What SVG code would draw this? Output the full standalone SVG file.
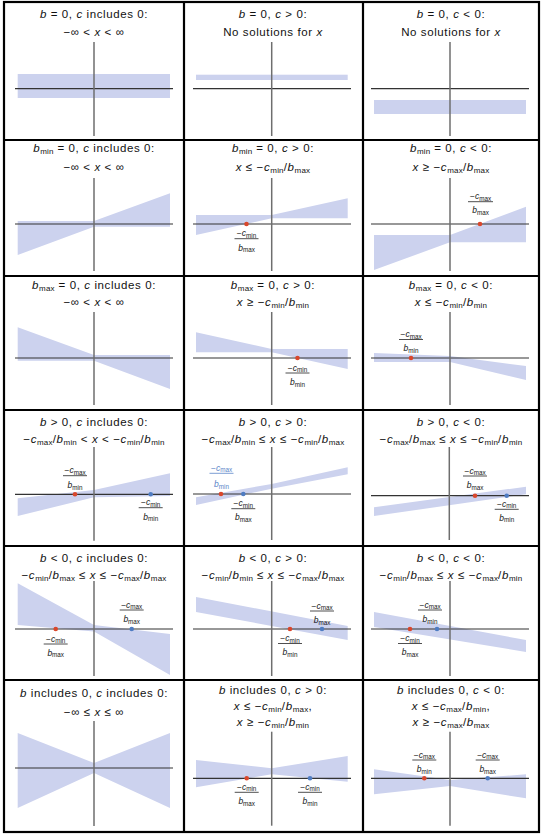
<svg xmlns="http://www.w3.org/2000/svg" width="544" height="836" viewBox="0 0 544 836">
<style>
.bg{fill:#ffffff}
.grid{stroke:#000;stroke-width:2.2;fill:none}
.band{fill:#ccd2ee}
.ax{stroke:#333;stroke-width:1.2}
.ay{stroke:#6e6e6e;stroke-width:1.5}
.t{font-family:"Liberation Sans",Arial,sans-serif;font-size:11.5px;fill:#111;text-anchor:middle;letter-spacing:0.6px}
.i{font-style:italic}
.s{font-size:8px;letter-spacing:0.2px}
.f{font-family:"Liberation Sans",Arial,sans-serif;font-size:8.5px;fill:#151515;text-anchor:middle}
.fb{font-family:"Liberation Sans",Arial,sans-serif;font-size:8.5px;fill:#5a84c8;text-anchor:middle}
.fs{font-size:6.3px}
.bar{stroke:#222;stroke-width:0.8}
.barb{stroke:#5a84c8;stroke-width:0.8}
.rd{fill:#d9472c}
.bd{fill:#4f7cc2}
</style>
<rect class="bg" x="0" y="0" width="544" height="836"/>
<g id="connectors"></g>

<!-- Row 1 -->
<g id="c1">
<rect class="band" x="17.7" y="74" width="152.3" height="24"/>
<line class="ax" x1="15" y1="88.7" x2="173" y2="88.7"/>
<line class="ay" x1="94" y1="42" x2="94" y2="136"/>
<text class="t" x="94" y="18"><tspan class="i">b</tspan> = 0, <tspan class="i">c</tspan> includes 0:</text>
<text class="t" x="94" y="36">−∞ &lt; <tspan class="i">x</tspan> &lt; ∞</text>
</g>
<g id="c2">
<rect class="band" x="196" y="74.7" width="151.7" height="5.3"/>
<line class="ax" x1="193" y1="88.7" x2="351" y2="88.7"/>
<line class="ay" x1="271.7" y1="42" x2="271.7" y2="136"/>
<text class="t" x="273" y="18"><tspan class="i">b</tspan> = 0, <tspan class="i">c</tspan> &gt; 0:</text>
<text class="t" x="273" y="36">No solutions for <tspan class="i">x</tspan></text>
</g>
<g id="c3">
<rect class="band" x="374" y="100" width="152" height="14"/>
<line class="ax" x1="371" y1="88.7" x2="529" y2="88.7"/>
<line class="ay" x1="450" y1="42" x2="450" y2="136"/>
<text class="t" x="451" y="18"><tspan class="i">b</tspan> = 0, <tspan class="i">c</tspan> &lt; 0:</text>
<text class="t" x="451" y="36">No solutions for <tspan class="i">x</tspan></text>
</g>

<!-- Row 2 -->
<g id="c4">
<polygon class="band" points="17.7,221 94,221 170,193.3 170,226.7 94,226.7 17.7,255"/>
<line class="ax" x1="15" y1="224" x2="173" y2="224"/>
<line class="ay" x1="94" y1="178" x2="94" y2="271"/>
<text class="t" x="94" y="152"><tspan class="i">b</tspan><tspan class="s" dy="2">min</tspan><tspan dy="-2"> = 0, </tspan><tspan class="i">c</tspan> includes 0:</text>
<text class="t" x="94" y="171">−∞ &lt; <tspan class="i">x</tspan> &lt; ∞</text>
</g>
<g id="c5">
<polygon class="band" points="196,215 271.7,215 347.7,198.3 347.7,218.3 271.7,218.3 196,235"/>
<line class="ax" x1="193" y1="224" x2="351" y2="224"/>
<line class="ay" x1="271.7" y1="178" x2="271.7" y2="271"/>
<circle class="rd" cx="246.5" cy="224" r="2.3"/>
<text class="f" x="246.5" y="236.2">−<tspan class="i">c</tspan><tspan class="fs" dy="1.5">min</tspan></text>
<line class="bar" x1="234.5" y1="238.7" x2="258.5" y2="238.7"/>
<text class="f" x="246.5" y="250.5"><tspan class="i">b</tspan><tspan class="fs" dy="1.5">max</tspan></text>
<text class="t" x="273" y="152"><tspan class="i">b</tspan><tspan class="s" dy="2">min</tspan><tspan dy="-2"> = 0, </tspan><tspan class="i">c</tspan> &gt; 0:</text>
<text class="t" x="273" y="171"><tspan class="i">x</tspan> ≤ −<tspan class="i">c</tspan><tspan class="s" dy="2">min</tspan><tspan dy="-2">/</tspan><tspan class="i">b</tspan><tspan class="s" dy="2">max</tspan></text>
</g>
<g id="c6">
<polygon class="band" points="374,235 450,235 526,206.7 526,242.3 450,242.3 374,270"/>
<line class="ax" x1="371" y1="224" x2="529" y2="224"/>
<line class="ay" x1="450" y1="178" x2="450" y2="271"/>
<circle class="rd" cx="480" cy="224" r="2.3"/>
<text class="f" x="480.5" y="199">−<tspan class="i">c</tspan><tspan class="fs" dy="1.5">max</tspan></text>
<line class="bar" x1="468" y1="201.7" x2="493" y2="201.7"/>
<text class="f" x="480.5" y="213"><tspan class="i">b</tspan><tspan class="fs" dy="1.5">max</tspan></text>
<text class="t" x="451" y="152"><tspan class="i">b</tspan><tspan class="s" dy="2">min</tspan><tspan dy="-2"> = 0, </tspan><tspan class="i">c</tspan> &lt; 0:</text>
<text class="t" x="451" y="171"><tspan class="i">x</tspan> ≥ −<tspan class="i">c</tspan><tspan class="s" dy="2">max</tspan><tspan dy="-2">/</tspan><tspan class="i">b</tspan><tspan class="s" dy="2">max</tspan></text>
</g>

<!-- Row 3 -->
<g id="c7">
<polygon class="band" points="17.7,327.3 94,355 170,355 170,389 94,360.7 17.7,360.7"/>
<line class="ax" x1="15" y1="358" x2="173" y2="358"/>
<line class="ay" x1="94" y1="312" x2="94" y2="405"/>
<text class="t" x="94" y="289"><tspan class="i">b</tspan><tspan class="s" dy="2">max</tspan><tspan dy="-2"> = 0, </tspan><tspan class="i">c</tspan> includes 0:</text>
<text class="t" x="94" y="306">−∞ &lt; <tspan class="i">x</tspan> &lt; ∞</text>
</g>
<g id="c8">
<polygon class="band" points="196,332.3 271.7,349 347.7,349 347.7,369 271.7,352.3 196,352.3"/>
<line class="ax" x1="193" y1="358" x2="351" y2="358"/>
<line class="ay" x1="271.7" y1="312" x2="271.7" y2="405"/>
<circle class="rd" cx="297.5" cy="358" r="2.3"/>
<text class="f" x="297.5" y="370.5">−<tspan class="i">c</tspan><tspan class="fs" dy="1.5">min</tspan></text>
<line class="bar" x1="285.5" y1="373" x2="309.5" y2="373"/>
<text class="f" x="297.5" y="385"><tspan class="i">b</tspan><tspan class="fs" dy="1.5">min</tspan></text>
<text class="t" x="273" y="289"><tspan class="i">b</tspan><tspan class="s" dy="2">max</tspan><tspan dy="-2"> = 0, </tspan><tspan class="i">c</tspan> &gt; 0:</text>
<text class="t" x="273" y="306"><tspan class="i">x</tspan> ≥ −<tspan class="i">c</tspan><tspan class="s" dy="2">min</tspan><tspan dy="-2">/</tspan><tspan class="i">b</tspan><tspan class="s" dy="2">min</tspan></text>
</g>
<g id="c9">
<polygon class="band" points="374,353 450,356 526,366 526,380 450,362 374,362"/>
<line class="ax" x1="371" y1="358" x2="529" y2="358"/>
<line class="ay" x1="450" y1="312" x2="450" y2="405"/>
<circle class="rd" cx="411" cy="358" r="2.3"/>
<text class="f" x="411" y="337">−<tspan class="i">c</tspan><tspan class="fs" dy="1.5">max</tspan></text>
<line class="bar" x1="399" y1="339.5" x2="423" y2="339.5"/>
<text class="f" x="411" y="351"><tspan class="i">b</tspan><tspan class="fs" dy="1.5">min</tspan></text>
<text class="t" x="451" y="289"><tspan class="i">b</tspan><tspan class="s" dy="2">max</tspan><tspan dy="-2"> = 0, </tspan><tspan class="i">c</tspan> &lt; 0:</text>
<text class="t" x="451" y="306"><tspan class="i">x</tspan> ≤ −<tspan class="i">c</tspan><tspan class="s" dy="2">min</tspan><tspan dy="-2">/</tspan><tspan class="i">b</tspan><tspan class="s" dy="2">min</tspan></text>
</g>

<!-- Row 4 -->
<g id="c10">
<polygon class="band" points="17.7,498.3 94,490 170,473.3 170,496 94,497.3 17.7,516"/>
<line class="ax" x1="15" y1="494.3" x2="173" y2="494.3"/>
<line class="ay" x1="94" y1="447" x2="94" y2="540.7"/>
<circle class="rd" cx="75" cy="494.3" r="2.3"/>
<circle class="bd" cx="150.7" cy="494.3" r="2.3"/>
<text class="f" x="75" y="473">−<tspan class="i">c</tspan><tspan class="fs" dy="1.5">max</tspan></text>
<line class="bar" x1="63" y1="475.7" x2="87" y2="475.7"/>
<text class="f" x="75" y="488"><tspan class="i">b</tspan><tspan class="fs" dy="1.5">min</tspan></text>
<text class="f" x="150.7" y="505">−<tspan class="i">c</tspan><tspan class="fs" dy="1.5">min</tspan></text>
<line class="bar" x1="138.7" y1="507.7" x2="162.7" y2="507.7"/>
<text class="f" x="150.7" y="519.5"><tspan class="i">b</tspan><tspan class="fs" dy="1.5">min</tspan></text>
<text class="t" x="94" y="426"><tspan class="i">b</tspan> &gt; 0, <tspan class="i">c</tspan> includes 0:</text>
<text class="t" x="94" y="443">−<tspan class="i">c</tspan><tspan class="s" dy="2">max</tspan><tspan dy="-2">/</tspan><tspan class="i">b</tspan><tspan class="s" dy="2">min</tspan><tspan dy="-2"> &lt; </tspan><tspan class="i">x</tspan> &lt; −<tspan class="i">c</tspan><tspan class="s" dy="2">min</tspan><tspan dy="-2">/</tspan><tspan class="i">b</tspan><tspan class="s" dy="2">min</tspan></text>
</g>
<g id="c11">
<polygon class="band" points="196,497.3 271.7,484 347.7,467.3 347.7,474.3 271.7,488.7 196,505"/>
<line class="ax" x1="193" y1="494" x2="351" y2="494"/>
<line class="ay" x1="271.7" y1="447" x2="271.7" y2="540"/>
<circle class="rd" cx="221" cy="494" r="2.3"/>
<circle class="bd" cx="243.3" cy="494" r="2.3"/>
<text class="fb" x="221.5" y="470.8">−<tspan class="i">c</tspan><tspan class="fs" dy="1.5">max</tspan></text>
<line class="barb" x1="209.5" y1="473.3" x2="233.5" y2="473.3"/>
<text class="fb" x="221.5" y="487"><tspan class="i">b</tspan><tspan class="fs" dy="1.5">min</tspan></text>
<text class="f" x="243.3" y="506.2">−<tspan class="i">c</tspan><tspan class="fs" dy="1.5">min</tspan></text>
<line class="bar" x1="231.3" y1="508.7" x2="255.3" y2="508.7"/>
<text class="f" x="243.3" y="520"><tspan class="i">b</tspan><tspan class="fs" dy="1.5">max</tspan></text>
<text class="t" x="273" y="426"><tspan class="i">b</tspan> &gt; 0, <tspan class="i">c</tspan> &gt; 0:</text>
<text class="t" x="273" y="443">−<tspan class="i">c</tspan><tspan class="s" dy="2">max</tspan><tspan dy="-2">/</tspan><tspan class="i">b</tspan><tspan class="s" dy="2">min</tspan><tspan dy="-2"> ≤ </tspan><tspan class="i">x</tspan> ≤ −<tspan class="i">c</tspan><tspan class="s" dy="2">min</tspan><tspan dy="-2">/</tspan><tspan class="i">b</tspan><tspan class="s" dy="2">max</tspan></text>
</g>
<g id="c12">
<polygon class="band" points="374,507.3 526,486.7 526,494.3 374,516"/>
<line class="ax" x1="371" y1="495.7" x2="529" y2="495.7"/>
<line class="ay" x1="449.3" y1="447" x2="449.3" y2="540"/>
<circle class="rd" cx="475" cy="495.7" r="2.3"/>
<circle class="bd" cx="506.7" cy="495.7" r="2.3"/>
<text class="f" x="475" y="473.5">−<tspan class="i">c</tspan><tspan class="fs" dy="1.5">max</tspan></text>
<line class="bar" x1="463" y1="476" x2="487" y2="476"/>
<text class="f" x="475" y="488"><tspan class="i">b</tspan><tspan class="fs" dy="1.5">max</tspan></text>
<text class="f" x="506.7" y="506.8">−<tspan class="i">c</tspan><tspan class="fs" dy="1.5">min</tspan></text>
<line class="bar" x1="494.7" y1="509.3" x2="518.7" y2="509.3"/>
<text class="f" x="506.7" y="520.5"><tspan class="i">b</tspan><tspan class="fs" dy="1.5">min</tspan></text>
<text class="t" x="451" y="426"><tspan class="i">b</tspan> &gt; 0, <tspan class="i">c</tspan> &lt; 0:</text>
<text class="t" x="451" y="443">−<tspan class="i">c</tspan><tspan class="s" dy="2">max</tspan><tspan dy="-2">/</tspan><tspan class="i">b</tspan><tspan class="s" dy="2">max</tspan><tspan dy="-2"> ≤ </tspan><tspan class="i">x</tspan> ≤ −<tspan class="i">c</tspan><tspan class="s" dy="2">min</tspan><tspan dy="-2">/</tspan><tspan class="i">b</tspan><tspan class="s" dy="2">min</tspan></text>
</g>

<!-- Row 5 -->
<g id="c13">
<polygon class="band" points="17.7,583.3 94,625 170,634 170,675 94,631.5 17.7,625"/>
<line class="ax" x1="15" y1="629" x2="173" y2="629"/>
<line class="ay" x1="94" y1="581" x2="94" y2="676"/>
<circle class="rd" cx="55.7" cy="629" r="2.3"/>
<circle class="bd" cx="131.7" cy="629" r="2.3"/>
<text class="f" x="131.7" y="607.5">−<tspan class="i">c</tspan><tspan class="fs" dy="1.5">max</tspan></text>
<line class="bar" x1="119.7" y1="610" x2="143.7" y2="610"/>
<text class="f" x="131.7" y="622"><tspan class="i">b</tspan><tspan class="fs" dy="1.5">max</tspan></text>
<text class="f" x="55.7" y="641.5">−<tspan class="i">c</tspan><tspan class="fs" dy="1.5">min</tspan></text>
<line class="bar" x1="43.7" y1="644" x2="67.7" y2="644"/>
<text class="f" x="55.7" y="655.5"><tspan class="i">b</tspan><tspan class="fs" dy="1.5">max</tspan></text>
<text class="t" x="94" y="562"><tspan class="i">b</tspan> &lt; 0, <tspan class="i">c</tspan> includes 0:</text>
<text class="t" x="94" y="579">−<tspan class="i">c</tspan><tspan class="s" dy="2">min</tspan><tspan dy="-2">/</tspan><tspan class="i">b</tspan><tspan class="s" dy="2">max</tspan><tspan dy="-2"> ≤ </tspan><tspan class="i">x</tspan> ≤ −<tspan class="i">c</tspan><tspan class="s" dy="2">max</tspan><tspan dy="-2">/</tspan><tspan class="i">b</tspan><tspan class="s" dy="2">max</tspan></text>
</g>
<g id="c14">
<polygon class="band" points="196,597 347.7,626 347.7,640 196,612"/>
<line class="ax" x1="193" y1="629" x2="351" y2="629"/>
<line class="ay" x1="271.7" y1="581" x2="271.7" y2="676"/>
<circle class="rd" cx="290" cy="629" r="2.3"/>
<circle class="bd" cx="322" cy="629" r="2.3"/>
<text class="f" x="322" y="608.5">−<tspan class="i">c</tspan><tspan class="fs" dy="1.5">max</tspan></text>
<line class="bar" x1="310" y1="611" x2="334" y2="611"/>
<text class="f" x="322" y="623"><tspan class="i">b</tspan><tspan class="fs" dy="1.5">max</tspan></text>
<text class="f" x="290" y="641">−<tspan class="i">c</tspan><tspan class="fs" dy="1.5">min</tspan></text>
<line class="bar" x1="278" y1="643.5" x2="302" y2="643.5"/>
<text class="f" x="290" y="655"><tspan class="i">b</tspan><tspan class="fs" dy="1.5">min</tspan></text>
<text class="t" x="273" y="562"><tspan class="i">b</tspan> &lt; 0, <tspan class="i">c</tspan> &gt; 0:</text>
<text class="t" x="273" y="579">−<tspan class="i">c</tspan><tspan class="s" dy="2">min</tspan><tspan dy="-2">/</tspan><tspan class="i">b</tspan><tspan class="s" dy="2">min</tspan><tspan dy="-2"> ≤ </tspan><tspan class="i">x</tspan> ≤ −<tspan class="i">c</tspan><tspan class="s" dy="2">max</tspan><tspan dy="-2">/</tspan><tspan class="i">b</tspan><tspan class="s" dy="2">max</tspan></text>
</g>
<g id="c15">
<polygon class="band" points="374,612 526,640 526,652 374,627"/>
<line class="ax" x1="371" y1="629" x2="529" y2="629"/>
<line class="ay" x1="450" y1="581" x2="450" y2="676"/>
<circle class="rd" cx="410" cy="629" r="2.3"/>
<circle class="bd" cx="437" cy="629" r="2.3"/>
<text class="f" x="430" y="607.5">−<tspan class="i">c</tspan><tspan class="fs" dy="1.5">max</tspan></text>
<line class="bar" x1="418" y1="610" x2="442" y2="610"/>
<text class="f" x="430" y="622"><tspan class="i">b</tspan><tspan class="fs" dy="1.5">min</tspan></text>
<text class="f" x="410" y="641">−<tspan class="i">c</tspan><tspan class="fs" dy="1.5">min</tspan></text>
<line class="bar" x1="398" y1="643.5" x2="422" y2="643.5"/>
<text class="f" x="410" y="655"><tspan class="i">b</tspan><tspan class="fs" dy="1.5">max</tspan></text>
<text class="t" x="451" y="562"><tspan class="i">b</tspan> &lt; 0, <tspan class="i">c</tspan> &lt; 0:</text>
<text class="t" x="451" y="579">−<tspan class="i">c</tspan><tspan class="s" dy="2">min</tspan><tspan dy="-2">/</tspan><tspan class="i">b</tspan><tspan class="s" dy="2">max</tspan><tspan dy="-2"> ≤ </tspan><tspan class="i">x</tspan> ≤ −<tspan class="i">c</tspan><tspan class="s" dy="2">max</tspan><tspan dy="-2">/</tspan><tspan class="i">b</tspan><tspan class="s" dy="2">min</tspan></text>
</g>

<!-- Row 6 -->
<g id="c16">
<polygon class="band" points="17.7,733 94,763 170,733 170,808 94,773 17.7,808"/>
<line class="ax" x1="15" y1="768" x2="173" y2="768"/>
<line class="ay" x1="94" y1="721" x2="94" y2="826"/>
<text class="t" x="94" y="697"><tspan class="i">b</tspan> includes 0, <tspan class="i">c</tspan> includes 0:</text>
<text class="t" x="94" y="716">−∞ ≤ <tspan class="i">x</tspan> ≤ ∞</text>
</g>
<g id="c17">
<polygon class="band" points="196,760 271.7,768.3 347.7,756 347.7,781.7 271.7,774.3 196,787.3"/>
<line class="ax" x1="193" y1="778.3" x2="351" y2="778.3"/>
<line class="ay" x1="271.7" y1="731.7" x2="271.7" y2="825.7"/>
<circle class="rd" cx="246.7" cy="778.3" r="2.3"/>
<circle class="bd" cx="310" cy="778.3" r="2.3"/>
<text class="f" x="246.7" y="789.8">−<tspan class="i">c</tspan><tspan class="fs" dy="1.5">min</tspan></text>
<line class="bar" x1="234.7" y1="792.3" x2="258.7" y2="792.3"/>
<text class="f" x="246.7" y="804"><tspan class="i">b</tspan><tspan class="fs" dy="1.5">max</tspan></text>
<text class="f" x="310" y="789.8">−<tspan class="i">c</tspan><tspan class="fs" dy="1.5">min</tspan></text>
<line class="bar" x1="298" y1="792.3" x2="322" y2="792.3"/>
<text class="f" x="310" y="804"><tspan class="i">b</tspan><tspan class="fs" dy="1.5">min</tspan></text>
<text class="t" x="273" y="694"><tspan class="i">b</tspan> includes 0, <tspan class="i">c</tspan> &gt; 0:</text>
<text class="t" x="273" y="710"><tspan class="i">x</tspan> ≤ −<tspan class="i">c</tspan><tspan class="s" dy="2">min</tspan><tspan dy="-2">/</tspan><tspan class="i">b</tspan><tspan class="s" dy="2">max</tspan><tspan dy="-2">,</tspan></text>
<text class="t" x="273" y="726"><tspan class="i">x</tspan> ≥ −<tspan class="i">c</tspan><tspan class="s" dy="2">min</tspan><tspan dy="-2">/</tspan><tspan class="i">b</tspan><tspan class="s" dy="2">min</tspan></text>
</g>
<g id="c18">
<polygon class="band" points="374,769.3 450,780 526,774.3 526,798.3 450,786 374,794.3"/>
<line class="ax" x1="371" y1="778.3" x2="529" y2="778.3"/>
<line class="ay" x1="450" y1="731.7" x2="450" y2="825.7"/>
<circle class="rd" cx="424.3" cy="778.3" r="2.3"/>
<circle class="bd" cx="487.7" cy="778.3" r="2.3"/>
<text class="f" x="424.3" y="757.5">−<tspan class="i">c</tspan><tspan class="fs" dy="1.5">max</tspan></text>
<line class="bar" x1="412.3" y1="760" x2="436.3" y2="760"/>
<text class="f" x="424.3" y="772"><tspan class="i">b</tspan><tspan class="fs" dy="1.5">min</tspan></text>
<text class="f" x="487.7" y="757.5">−<tspan class="i">c</tspan><tspan class="fs" dy="1.5">max</tspan></text>
<line class="bar" x1="475.7" y1="760" x2="499.7" y2="760"/>
<text class="f" x="487.7" y="772"><tspan class="i">b</tspan><tspan class="fs" dy="1.5">max</tspan></text>
<text class="t" x="451" y="694"><tspan class="i">b</tspan> includes 0, <tspan class="i">c</tspan> &lt; 0:</text>
<text class="t" x="451" y="710"><tspan class="i">x</tspan> ≤ −<tspan class="i">c</tspan><tspan class="s" dy="2">max</tspan><tspan dy="-2">/</tspan><tspan class="i">b</tspan><tspan class="s" dy="2">min</tspan><tspan dy="-2">,</tspan></text>
<text class="t" x="451" y="726"><tspan class="i">x</tspan> ≥ −<tspan class="i">c</tspan><tspan class="s" dy="2">max</tspan><tspan dy="-2">/</tspan><tspan class="i">b</tspan><tspan class="s" dy="2">max</tspan></text>
</g>

<g id="grid">
<rect class="grid" x="4" y="2" width="535" height="830"/>
<line class="grid" x1="184" y1="2" x2="184" y2="832"/>
<line class="grid" x1="363" y1="2" x2="363" y2="832"/>
<line class="grid" x1="4" y1="140" x2="539" y2="140"/>
<line class="grid" x1="4" y1="276" x2="539" y2="276"/>
<line class="grid" x1="4" y1="410" x2="539" y2="410"/>
<line class="grid" x1="4" y1="546" x2="539" y2="546"/>
<line class="grid" x1="4" y1="680" x2="539" y2="680"/>
</g>
</svg>
